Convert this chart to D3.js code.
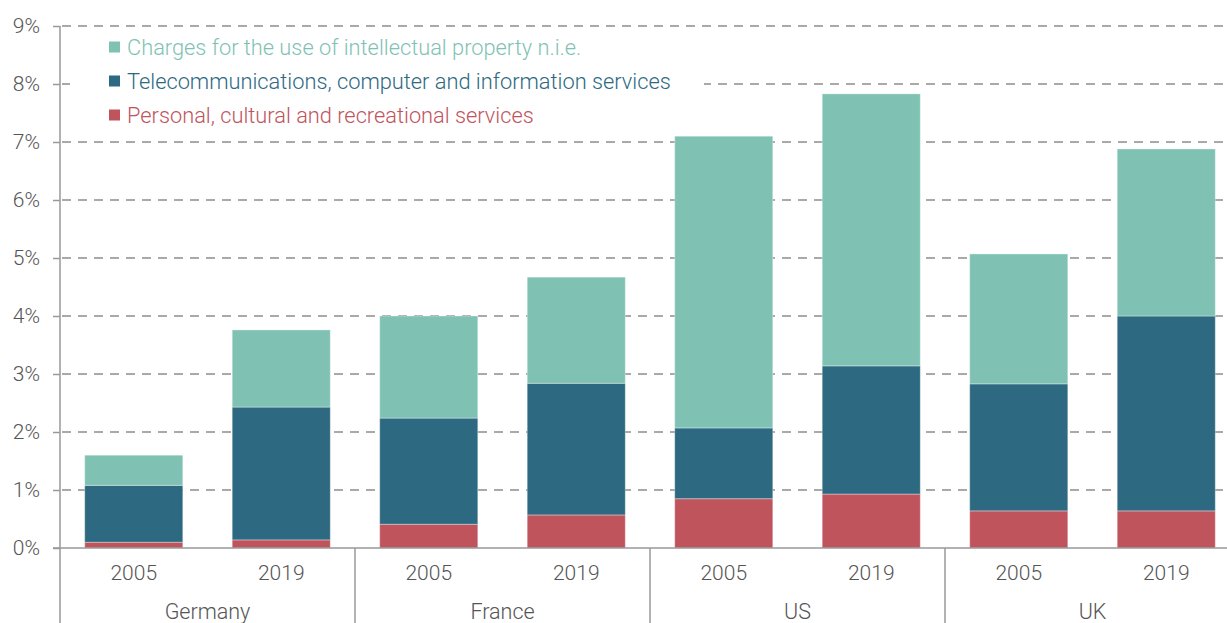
<!DOCTYPE html>
<html>
<head>
<meta charset="utf-8">
<script src="https://cdn.jsdelivr.net/npm/d3@7"></script>
<style>
  body { margin: 0; background: #fff; }
  svg text { font-family: Roboto, "Noto Sans", sans-serif; font-weight: 300; }
</style>
</head>
<body>
<div id="plot"></div>
<script>
// data (share, %)
var countries = ['Germany', 'France', 'US', 'UK'];
var years = ['2005', '2019'];
var personal = [0.10, 0.14, 0.41, 0.57, 0.85, 0.93, 0.64, 0.64];
var telecom  = [0.98, 2.29, 1.83, 2.27, 1.22, 2.21, 2.19, 3.36];
var charges  = [0.52, 1.33, 1.76, 1.83, 5.03, 4.69, 2.24, 2.88];
var yTicks = [0, 1, 2, 3, 4, 5, 6, 7, 8, 9];

var seriesNames = ['Charges for the use of intellectual property n.i.e.',
	'Telecommunications, computer and information services',
	'Personal, cultural and recreational services'];
var colors = {personal: '#c0545d', telecom: '#2d6981', charges: '#7fc2b4'};

var W = 1227, H = 623;
var margin = {t:26, l:60, b:75};
var y0 = H - margin.b;

var svg = d3.select('#plot').append('svg')
	.attr('width', W).attr('height', H);

// bars: one slot per country/year, plot runs a bit past the right edge
var bars = [];
countries.forEach(function(c, i){
	years.forEach(function(yr, j){
		var k = i*2 + j;
		bars.push({key: c + yr, country: c, year: yr,
			personal: personal[k], telecom: telecom[k], charges: charges[k]});
	});
});

var x = d3.scaleBand()
	.domain(bars.map(function(d){ return d.key; }))
	.range([margin.l, margin.l + 8*147.5])
	.paddingInner(0.335)
	.paddingOuter(0.1675);

var y = d3.scaleLinear().domain([0, 9]).range([y0, margin.t]);

// gridlines
svg.append('g').selectAll('line')
	.data(yTicks.filter(function(t){ return t > 0; }))
	.enter().append('line')
	.attr('x1', margin.l).attr('x2', W)
	.attr('y1', function(d){ return y(d); })
	.attr('y2', function(d){ return y(d); })
	.attr('stroke', '#a9a9a9')
	.attr('stroke-width', 2)
	.attr('stroke-dasharray', '9,7')
	.attr('stroke-dashoffset', -2);

// stacked bars
var stack = d3.stack().keys(['personal', 'telecom', 'charges']);
var layers = stack(bars);

svg.append('g').selectAll('g')
	.data(layers)
	.enter().append('g')
	.attr('fill', function(d){ return colors[d.key]; })
	.selectAll('rect')
	.data(function(d){ return d; })
	.enter().append('rect')
	.attr('x', function(d){ return x(d.data.key); })
	.attr('width', x.bandwidth())
	.attr('y', function(d){ return y(d[1]); })
	.attr('height', function(d){ return y(d[0]) - y(d[1]); })
	.attr('stroke', 'rgba(255,255,255,0.35)')
	.attr('stroke-width', 1);

// y axis
var yAxis = d3.axisLeft(y)
	.tickValues(yTicks)
	.tickFormat(function(d){ return d + '%'; })
	.tickSize(7)
	.tickPadding(13);

var ya = svg.append('g')
	.attr('transform', 'translate(' + margin.l + ',0)')
	.call(yAxis);
ya.select('.domain').remove();
ya.selectAll('.tick line').attr('stroke', '#999').attr('stroke-width', 1.5);
ya.selectAll('.tick text')
	.attr('fill', '#555')
	.style('font-size', '21px');

svg.append('line')
	.attr('x1', margin.l).attr('x2', margin.l)
	.attr('y1', margin.t).attr('y2', H)
	.attr('stroke', '#999').attr('stroke-width', 1.5);

// baseline
svg.append('line')
	.attr('x1', margin.l - 7).attr('x2', W)
	.attr('y1', y0).attr('y2', y0)
	.attr('stroke', '#999').attr('stroke-width', 1.5);

// year labels
svg.append('g').selectAll('text')
	.data(bars)
	.enter().append('text')
	.attr('x', function(d){ return x(d.key) + x.bandwidth()/2; })
	.attr('y', y0 + 32)
	.attr('text-anchor', 'middle')
	.attr('fill', '#555')
	.style('font-size', '21px')
	.text(function(d){ return d.year; });

// country groups and separators
var groupW = x.step()*2;
svg.append('g').selectAll('line')
	.data(countries.slice(1))
	.enter().append('line')
	.attr('x1', function(d, i){ return margin.l + (i+1)*groupW; })
	.attr('x2', function(d, i){ return margin.l + (i+1)*groupW; })
	.attr('y1', y0).attr('y2', H)
	.attr('stroke', '#999').attr('stroke-width', 1.5);

svg.append('g').selectAll('text')
	.data(countries)
	.enter().append('text')
	.attr('x', function(d, i){ return margin.l + i*groupW + groupW/2; })
	.attr('y', y0 + 71)
	.attr('text-anchor', 'middle')
	.attr('fill', '#555')
	.style('font-size', '21.5px')
	.text(function(d){ return d; });

// legend on a white box that hides the gridlines behind it
var legend = svg.append('g');
legend.append('rect')
	.attr('x', 70).attr('y', 34)
	.attr('width', 634).attr('height', 96)
	.attr('fill', '#fff');

var legendColors = [colors.charges, colors.telecom, colors.personal];
var li = legend.selectAll('g.item')
	.data(seriesNames)
	.enter().append('g')
	.attr('class', 'item')
	.attr('transform', function(d, i){ return 'translate(109,' + (47 + i*34) + ')'; });

li.append('rect')
	.attr('x', 0).attr('y', -5.5)
	.attr('width', 11).attr('height', 11)
	.attr('fill', function(d, i){ return legendColors[i]; });

li.append('text')
	.attr('x', 18)
	.attr('dy', '0.35em')
	.attr('fill', function(d, i){ return legendColors[i]; })
	.style('font-size', '21.8px')
	.text(function(d){ return d; });
</script>
</body>
</html>
